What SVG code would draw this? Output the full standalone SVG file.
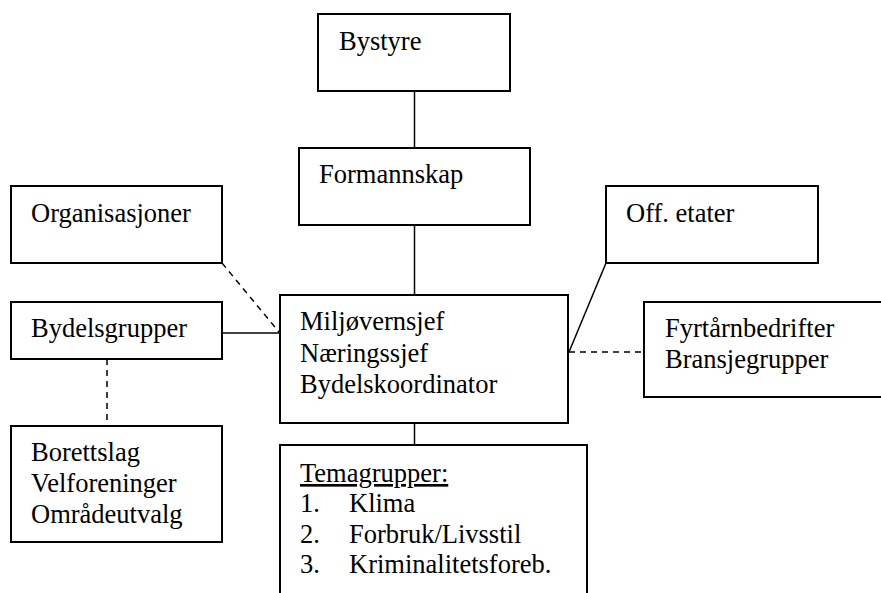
<svg xmlns="http://www.w3.org/2000/svg" width="881" height="593" viewBox="0 0 881 593">
<style>
.box{fill:#fff;stroke:#000;stroke-width:2}
.t{font-family:'Liberation Serif','Times New Roman',serif;font-size:26.5px;fill:#000}
.ln{stroke:#000;stroke-width:1.5;fill:none}
.dash{stroke:#000;stroke-width:1.5;fill:none;stroke-dasharray:6,5}
</style>
<rect width="881" height="593" fill="#fff"/>
<g id="connectors">
<line class="ln" x1="414.5" y1="91" x2="414.5" y2="148"/>
<line class="ln" x1="414.5" y1="225" x2="414.5" y2="295"/>
<line class="ln" x1="222" y1="333" x2="280" y2="333"/>
<line class="dash" x1="222" y1="263" x2="279" y2="332"/>
<line class="ln" x1="606" y1="263" x2="569" y2="352"/>
<line class="dash" x1="569" y1="352" x2="644" y2="352"/>
<line class="dash" x1="107" y1="359" x2="107" y2="426"/>
<line class="ln" x1="414.5" y1="423" x2="414.5" y2="445"/>
</g>
<g id="nodes" font-family="Liberation Serif">
<g id="bystyre">
<rect class="box" x="318" y="14" width="192" height="77"/>
<text class="t" x="339" y="50">Bystyre</text>
</g>
<g id="formannskap">
<rect class="box" x="299" y="148" width="231" height="77"/>
<text class="t" x="319" y="183">Formannskap</text>
</g>
<g id="organisasjoner">
<rect class="box" x="11" y="186" width="211" height="77"/>
<text class="t" x="31" y="222">Organisasjoner</text>
</g>
<g id="off-etater">
<rect class="box" x="606" y="186" width="212" height="77"/>
<text class="t" x="626" y="222">Off. etater</text>
</g>
<g id="bydelsgrupper">
<rect class="box" x="11" y="302" width="211" height="57"/>
<text class="t" x="31" y="337">Bydelsgrupper</text>
</g>
<g id="sentral">
<rect class="box" x="280" y="295" width="288" height="128"/>
<text class="t" x="300" y="330">Miljøvernsjef</text>
<text class="t" x="300" y="362">Næringssjef</text>
<text class="t" x="300" y="393">Bydelskoordinator</text>
</g>
<g id="fyrtarn">
<path class="box" d="M890,302 H644 V397 H890"/>
<text class="t" x="665" y="337">Fyrtårnbedrifter</text>
<text class="t" x="665" y="368">Bransjegrupper</text>
</g>
<g id="borettslag">
<rect class="box" x="11" y="426" width="211" height="116"/>
<text class="t" x="31" y="461">Borettslag</text>
<text class="t" x="31" y="492">Velforeninger</text>
<text class="t" x="31" y="523">Områdeutvalg</text>
</g>
<g id="temagrupper">
<path class="box" d="M280,594 V445 H587 V594"/>
<text class="t" x="300" y="482" text-decoration="underline">Temagrupper:</text>
<text class="t" x="300" y="512">1.</text><text class="t" x="349" y="512">Klima</text>
<text class="t" x="300" y="543">2.</text><text class="t" x="349" y="543">Forbruk/Livsstil</text>
<text class="t" x="300" y="573">3.</text><text class="t" x="349" y="573">Kriminalitetsforeb.</text>
</g>
</g>
</svg>
